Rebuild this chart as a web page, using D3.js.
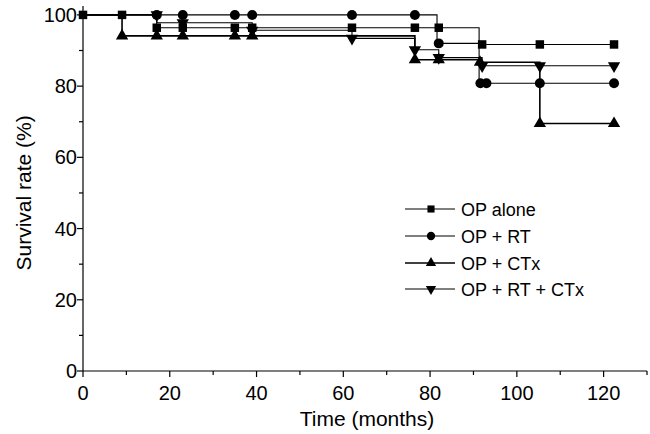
<!DOCTYPE html>
<html>
<head>
<meta charset="utf-8">
<script src="https://cdn.jsdelivr.net/npm/d3@7"></script>
<style>
  body { margin: 0; background: #fff; }
  text { font-family: "Liberation Sans", Arial, sans-serif; fill: #000; }
</style>
</head>
<body>
<div id="chart"></div>
<script>
// series names (legend order)
var seriesNames = ['OP alone', 'OP + RT', 'OP + CTx', 'OP + RT + CTx'];

// step points [months, survival %] and censor marks for each group
var opAloneSteps = [[0, 100], [17, 96.4], [91.3, 91.7], [122.4, 91.7]];
var opAloneCensored = [[0, 100], [9, 100], [17, 96.4], [23, 96.4], [35, 96.4], [39, 96.4], [62, 96.4], [76.5, 96.4], [82, 96.4], [92, 91.7], [105.3, 91.7], [122.4, 91.7]];

var opRtSteps = [[0, 100], [81.6, 92.0], [91.3, 80.8], [122.4, 80.8]];
var opRtCensored = [[17, 100], [23, 100], [35, 100], [39, 100], [62, 100], [76.5, 100], [82, 92.0], [91.6, 80.8], [93, 80.8], [105.3, 80.8], [122.4, 80.8]];

var opCtxSteps = [[0, 100], [9, 94.1], [76.5, 87.4], [91.5, 86.7], [105.3, 69.5], [122.4, 69.5]];
var opCtxCensored = [[9, 94.1], [17, 94.1], [23, 94.1], [35, 94.1], [39, 94.1], [76.5, 87.4], [82, 87.4], [91.5, 86.7], [105.3, 69.5], [122.4, 69.5]];

var opRtCtxSteps = [[0, 100], [17, 97.8], [39, 95.7], [62, 93.4], [76.5, 90.2], [82, 88.0], [92, 85.7], [122.4, 85.7]];
var opRtCtxCensored = [[17, 100], [23, 97.8], [39, 95.7], [62, 93.4], [76.5, 90.2], [82, 88.0], [92, 85.7], [105.3, 85.7], [122.4, 85.7]];

// axis ticks
var xTicks = [0, 20, 40, 60, 80, 100, 120];
var xMinorTicks = [10, 30, 50, 70, 90, 110, 130];
var yTicks = [0, 20, 40, 60, 80, 100];
var yMinorTicks = [10, 30, 50, 70, 90];

var config = { width: 650, height: 434 };

var groups = [
  { name: seriesNames[0], steps: opAloneSteps, marks: opAloneCensored, symbol: d3.symbolSquare, size: 72, rotate: 0, lw: 1.1 },
  { name: seriesNames[1], steps: opRtSteps, marks: opRtCensored, symbol: d3.symbolCircle, size: 78, rotate: 0, lw: 1.1 },
  { name: seriesNames[2], steps: opCtxSteps, marks: opCtxCensored, symbol: d3.symbolTriangle, size: 66, rotate: 0, lw: 1.6 },
  { name: seriesNames[3], steps: opRtCtxSteps, marks: opRtCtxCensored, symbol: d3.symbolTriangle, size: 66, rotate: 180, lw: 1.1 }
];

var svg = d3.select('#chart').append('svg')
  .attr('width', config.width)
  .attr('height', config.height);

// scales
var x = d3.scaleLinear().domain([0, 130]).range([83, 647]);
var y = d3.scaleLinear().domain([0, 102.5]).range([371, 6]);

// x axis
var xAxis = svg.append('g').attr('transform', 'translate(0,' + y(0) + ')');
xAxis.append('path').attr('d', 'M' + x(0) + ',0H' + x(130)).attr('stroke', '#000').attr('stroke-width', 1.2);
xAxis.selectAll('.xt').data(xTicks).enter().append('line')
  .attr('x1', d => x(d)).attr('x2', d => x(d)).attr('y1', 0).attr('y2', 6)
  .attr('stroke', '#000').attr('stroke-width', 1.2);
xAxis.selectAll('.xm').data(xMinorTicks).enter().append('line')
  .attr('x1', d => x(d)).attr('x2', d => x(d)).attr('y1', 0).attr('y2', 4)
  .attr('stroke', '#000').attr('stroke-width', 1.2);
xAxis.selectAll('.xl').data(xTicks).enter().append('text')
  .attr('x', d => x(d)).attr('y', 29)
  .attr('text-anchor', 'middle')
  .style('font-size', '20px')
  .text(d => d);

// y axis
var yAxis = svg.append('g').attr('transform', 'translate(' + x(0) + ',0)');
yAxis.append('path').attr('d', 'M0,' + y(0) + 'V' + y(102.5)).attr('stroke', '#000').attr('stroke-width', 1.2);
yAxis.selectAll('.yt').data(yTicks).enter().append('line')
  .attr('x1', -6).attr('x2', 0).attr('y1', d => y(d)).attr('y2', d => y(d))
  .attr('stroke', '#000').attr('stroke-width', 1.2);
yAxis.selectAll('.ym').data(yMinorTicks).enter().append('line')
  .attr('x1', -4).attr('x2', 0).attr('y1', d => y(d)).attr('y2', d => y(d))
  .attr('stroke', '#000').attr('stroke-width', 1.2);
yAxis.selectAll('.yl').data(yTicks).enter().append('text')
  .attr('x', -6).attr('y', d => y(d) + 7)
  .attr('text-anchor', 'end')
  .style('font-size', '20px')
  .text(d => d);

// axis titles
svg.append('text')
  .attr('x', (x(0) + x(130)) / 2 + 2).attr('y', 426)
  .attr('text-anchor', 'middle')
  .style('font-size', '21px')
  .text('Time (months)');
svg.append('text')
  .attr('transform', 'translate(31,' + (y(0) + y(100)) / 2 + ') rotate(-90)')
  .attr('text-anchor', 'middle')
  .style('font-size', '21px')
  .text('Survival rate (%)');

// survival curves
var line = d3.line().x(d => x(d[0])).y(d => y(d[1])).curve(d3.curveStepAfter);
var curves = svg.append('g');
groups.forEach(function(g) {
  curves.append('path')
    .attr('d', line(g.steps))
    .attr('fill', 'none')
    .attr('stroke', '#000')
    .attr('stroke-width', g.lw);
});
groups.forEach(function(g) {
  curves.selectAll(null).data(g.marks).enter().append('path')
    .attr('d', d3.symbol().type(g.symbol).size(g.size))
    .attr('transform', d => 'translate(' + x(d[0]) + ',' + y(d[1]) + ') rotate(' + g.rotate + ')')
    .attr('fill', '#000');
});

// legend
var legend = svg.append('g');
var rowY = [209, 236, 263, 289];
groups.forEach(function(g, i) {
  var row = legend.append('g').attr('transform', 'translate(0,' + rowY[i] + ')');
  row.append('line').attr('x1', 405).attr('x2', 455).attr('y1', 0).attr('y2', 0)
    .attr('stroke', '#000').attr('stroke-width', g.lw);
  row.append('path')
    .attr('d', d3.symbol().type(g.symbol).size(g.size * 0.7))
    .attr('transform', 'translate(431,0) rotate(' + g.rotate + ')')
    .attr('fill', '#000');
  row.append('text').attr('x', 461).attr('y', 6.5)
    .style('font-size', '18px')
    .text(g.name);
});
</script>
</body>
</html>
